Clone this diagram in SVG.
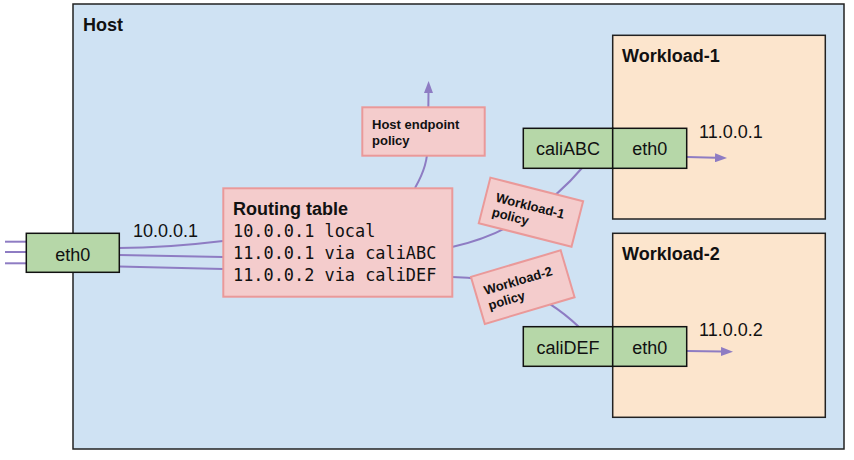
<svg xmlns="http://www.w3.org/2000/svg" width="854" height="460" viewBox="0 0 854 460">
<defs>
<style>
.host{fill:#cfe2f3;stroke:#222;stroke-width:1.5}
.wl{fill:#fce5cd;stroke:#222;stroke-width:1.5}
.grn{fill:#b6d7a8;stroke:#111;stroke-width:1.5}
.pol{fill:#f4cccc;stroke:#ea9999;stroke-width:2}
.c{fill:none;stroke:#8e7cc3;stroke-width:2}
.t{font-family:"Liberation Sans",Arial,sans-serif;font-size:18px;fill:#111}
.b{font-family:"Liberation Sans",Arial,sans-serif;font-size:18px;font-weight:bold;fill:#111}
.ps{font-family:"Liberation Sans",Arial,sans-serif;font-size:13px;font-weight:bold;fill:#111}
.m{font-family:"DejaVu Sans Mono","Liberation Mono",monospace;font-size:16.9px;fill:#111}
</style>
<marker id="ah" markerUnits="userSpaceOnUse" markerWidth="12" markerHeight="9" refX="1" refY="4.5" orient="auto">
<path d="M0,0 L12,4.5 L0,9 z" fill="#8e7cc3"/>
</marker>
</defs>
<g id="host">
<rect class="host" x="73" y="4" width="771" height="445"/>
<text class="b" x="83" y="31">Host</text>
</g>
<g id="workload-1">
<rect class="wl" x="612.7" y="35.3" width="212.6" height="183.7"/>
<text class="b" x="622" y="62">Workload-1</text>
</g>
<g id="workload-2">
<rect class="wl" x="612.7" y="233.3" width="212.6" height="184"/>
<text class="b" x="622" y="260">Workload-2</text>
</g>
<g id="connectors">
<path class="c" d="M5,241.7 L26,241.7"/>
<path class="c" d="M5,252 L26,252"/>
<path class="c" d="M5,263.3 L26,263.3"/>
<path class="c" d="M119,248 C160,248 190,245 223,241"/>
<path class="c" d="M119,255 L223,257"/>
<path class="c" d="M119,266.5 L223,269"/>
<path class="c" d="M415,188 C424,172 428,160 428,140 L428.5,92" marker-end="url(#ah)"/>
<path class="c" d="M452,247 C510,235 555,200 582,168"/>
<path class="c" d="M452,277 C500,278 540,290 579,327"/>
<path class="c" d="M687,157 L716,157.8" marker-end="url(#ah)"/>
<path class="c" d="M687,351 L722,351.5" marker-end="url(#ah)"/>
</g>
<g id="eth0-host">
<rect class="grn" x="26.3" y="233.3" width="93" height="39"/>
<text class="t" x="72.8" y="261" text-anchor="middle">eth0</text>
</g>
<text class="t" x="133" y="237">10.0.0.1</text>
<g id="routing-table">
<rect class="pol" x="223.3" y="188.3" width="229" height="108.4"/>
<text class="b" x="233" y="215">Routing table</text>
<text class="m" x="233" y="237">10.0.0.1 local</text>
<text class="m" x="233" y="259">11.0.0.1 via caliABC</text>
<text class="m" x="233" y="281">11.0.0.2 via caliDEF</text>
</g>
<g id="host-endpoint-policy">
<rect class="pol" x="362.3" y="107.3" width="122.4" height="48.4"/>
<text class="ps" x="372" y="128.5">Host endpoint</text>
<text class="ps" x="372" y="144.5">policy</text>
</g>
<g id="workload-1-policy" transform="translate(530.9,212.2) rotate(14.3)">
<rect class="pol" x="-47.8" y="-23.5" width="95.7" height="47"/>
<text class="ps" x="-37.5" y="-1.5">Workload-1</text>
<text class="ps" x="-37.5" y="13.5">policy</text>
</g>
<g id="workload-2-policy" transform="translate(522.75,287.1) rotate(-16.5)">
<rect class="pol" x="-46.8" y="-24.5" width="93.6" height="49"/>
<text class="ps" x="-38" y="-3">Workload-2</text>
<text class="ps" x="-38" y="12.5">policy</text>
</g>
<g id="caliABC">
<rect class="grn" x="523.3" y="128.3" width="89.4" height="40"/>
<text class="t" x="568" y="155" text-anchor="middle">caliABC</text>
</g>
<g id="eth0-w1">
<rect class="grn" x="612.7" y="128.3" width="74" height="40"/>
<text class="t" x="649.7" y="155" text-anchor="middle">eth0</text>
</g>
<text class="t" x="699" y="138">11.0.0.1</text>
<g id="caliDEF">
<rect class="grn" x="523.3" y="326.7" width="89.4" height="39.6"/>
<text class="t" x="568" y="353.5" text-anchor="middle">caliDEF</text>
</g>
<g id="eth0-w2">
<rect class="grn" x="612.7" y="326.7" width="74" height="39.6"/>
<text class="t" x="649.7" y="353.5" text-anchor="middle">eth0</text>
</g>
<text class="t" x="699" y="335.5">11.0.0.2</text>
</svg>
